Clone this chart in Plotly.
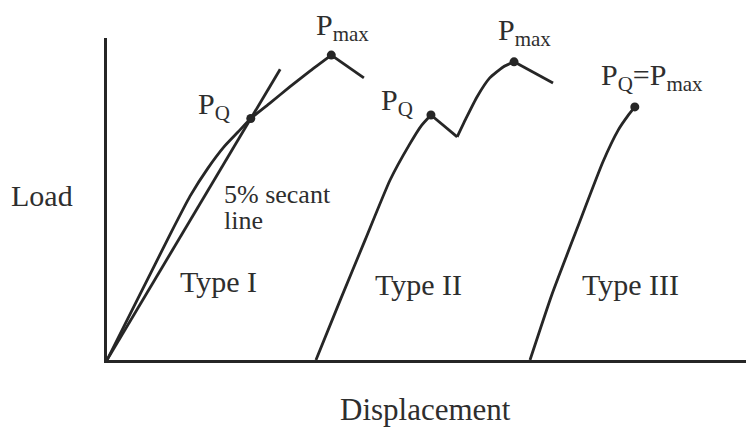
import plotly.graph_objects as go

# Schematic load-displacement records (arbitrary units, 0-100 on both axes)

# Type I: gradual non-linear rise up to the maximum load, then a short drop
t1_rise_disp = [0, 5.2, 9.9, 13.0, 15.8, 18.3, 20.5, 22.5, 25.5, 28.6, 31.8, 35.1]
t1_rise_load = [0, 20.5, 39.1, 50.9, 59.6, 66.2, 70.8, 75.0, 79.8, 84.8, 89.8, 94.7]
t1_drop_disp = [35.1, 40.2]
t1_drop_load = [94.7, 87.6]
t1_pq_index = 7

# 5% secant line drawn from the origin
secant_disp = [0, 27.1]
secant_load = [0, 90.3]

# Type II: pop-in (load drop) followed by reloading to the maximum
t2_rise_disp = [32.7, 36.5, 40.4, 44.3, 47.3, 49.2, 50.7]
t2_rise_load = [0, 18.6, 37.3, 55.9, 66.8, 72.8, 76.1]
t2_popin_disp = [50.7, 54.8]
t2_popin_load = [76.1, 69.3]
t2_reload_disp = [54.8, 56.3, 57.9, 59.9, 62.0, 63.7]
t2_reload_load = [69.3, 75.5, 81.7, 87.6, 91.0, 92.6]
t2_drop_disp = [63.7, 69.8]
t2_drop_load = [92.6, 86.0]

# Type III: near-linear rise to sudden fracture
t3_disp = [66.2, 69.6, 73.6, 77.6, 80.0, 81.5, 82.6]
t3_load = [0, 20.2, 41.0, 61.5, 71.4, 75.8, 78.6]

INK = "#262626"
TEXT = "#2e2e2e"
SERIF = "Liberation Serif, Times New Roman, serif"

fig = go.Figure()

def curve(x, y, smooth):
    fig.add_trace(go.Scatter(
        x=x, y=y, mode="lines",
        line=dict(color=INK, width=2.8, shape="spline" if smooth else "linear",
                  smoothing=0.5 if smooth else None),
        hoverinfo="skip", showlegend=False))

curve(t1_rise_disp, t1_rise_load, True)
curve(t1_drop_disp, t1_drop_load, False)
curve(secant_disp, secant_load, False)
curve(t2_rise_disp, t2_rise_load, True)
curve(t2_popin_disp, t2_popin_load, False)
curve(t2_reload_disp, t2_reload_load, True)
curve(t2_drop_disp, t2_drop_load, False)
curve(t3_disp, t3_load, True)

# P_Q and P_max markers, taken from the curves themselves
key_disp = [t1_rise_disp[t1_pq_index], t1_rise_disp[-1], t2_rise_disp[-1],
            t2_reload_disp[-1], t3_disp[-1]]
key_load = [t1_rise_load[t1_pq_index], t1_rise_load[-1], t2_rise_load[-1],
            t2_reload_load[-1], t3_load[-1]]
fig.add_trace(go.Scatter(
    x=key_disp, y=key_load, mode="markers",
    marker=dict(color=INK, size=9),
    hoverinfo="skip", showlegend=False))

# Text placed in plot-fraction coordinates (0-1 spans the axes box)
def label(text, x, y, size, anchor="center"):
    fig.add_annotation(
        text=text, x=x, y=y, xref="paper", yref="paper",
        xanchor=anchor, yanchor="middle", showarrow=False,
        font=dict(family=SERIF, size=size, color=TEXT))

label("Type I", 0.174, 0.245, 30)
label("Type II", 0.487, 0.236, 30)
label("Type III", 0.820, 0.233, 30)
label("5% secant", 0.180, 0.514, 26, anchor="left")
label("line", 0.180, 0.433, 26, anchor="left")
label("P<sub>Q</sub>", 0.140, 0.790, 30, anchor="left")
label("P<sub>max</sub>", 0.324, 1.034, 30, anchor="left")
label("P<sub>Q</sub>", 0.425, 0.801, 30, anchor="left")
label("P<sub>max</sub>", 0.6085, 1.020, 30, anchor="left")
label("P<sub>Q</sub>=P<sub>max</sub>", 0.770, 0.878, 30, anchor="left")
label("Load", -0.1017, 0.512, 30)
label("Displacement", 0.498, -0.155, 31)

axis = dict(showgrid=False, zeroline=False, showticklabels=False, ticks="",
            showline=True, linecolor=INK, linewidth=3, fixedrange=True)
fig.update_layout(
    width=746, height=435,
    margin=dict(l=107, r=0, t=38, b=75),
    paper_bgcolor="white", plot_bgcolor="white",
    xaxis=dict(range=[0, 100], **axis),
    yaxis=dict(range=[0, 100], **axis),
)

fig.write_html("out.html")
